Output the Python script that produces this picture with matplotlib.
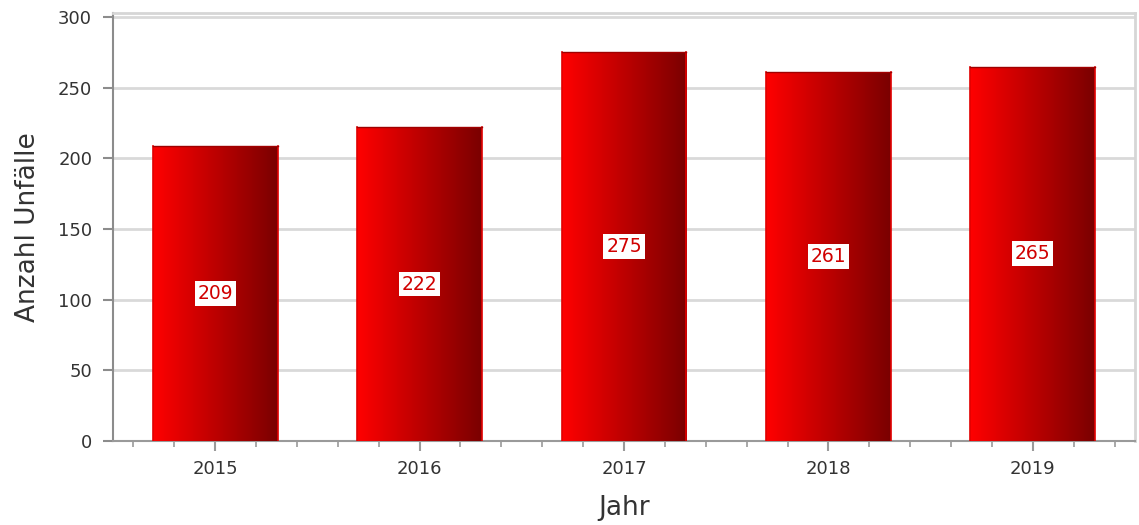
import matplotlib
matplotlib.use("Agg")
import matplotlib.pyplot as plt
import numpy as np
from matplotlib.colors import LinearSegmentedColormap
from matplotlib.ticker import MultipleLocator

years = ["2015", "2016", "2017", "2018", "2019"]
accidents = [209, 222, 275, 261, 265]
y_ticks = [0, 50, 100, 150, 200, 250, 300]
x_label = "Jahr"
y_label = "Anzahl Unfälle"

plt.rcParams['font.family'] = ['DejaVu Sans']
text_col = "#333333"

fig = plt.figure(figsize=(11.39, 5.25), dpi=100)
ax = fig.add_axes([0.0992, 0.16, 0.8973, 0.815])

x = np.arange(len(years))
width = 0.61
cmap = LinearSegmentedColormap.from_list("redgrad", ["#ff0000", "#7a0000"])
grad = np.linspace(0, 1, 256).reshape(1, -1)

bars = ax.bar(x, accidents, width=width, color="none", edgecolor="none", zorder=3)
for b in bars:
    x0, y0 = b.get_x(), b.get_y()
    w, h = b.get_width(), b.get_height()
    im = ax.imshow(grad, cmap=cmap, aspect="auto", extent=[x0, x0 + w, y0, y0 + h],
                   zorder=3, interpolation="bilinear")
    im.set_clip_path(b)
    ax.plot([x0 + w, x0 + w], [y0, y0 + h], color="#e00000", lw=1.2, zorder=4)
    ax.plot([x0, x0], [y0, y0 + h], color="#e00000", lw=1.2, zorder=4)
    ax.plot([x0, x0 + w], [y0 + h, y0 + h], color="#a00000", lw=1.0, zorder=4)

for xi, v in zip(x, accidents):
    ax.text(xi, v / 2, str(v), ha="center", va="center", fontsize=13.5, color="#d00000",
            zorder=5, bbox=dict(boxstyle="square,pad=0.15", fc="white", ec="none"))

ax.set_xlim(-0.5, len(years) - 0.5)
ax.set_ylim(0, 302.8)
ax.set_yticks(y_ticks)
ax.set_xticks(x)
ax.set_xticklabels(years)
ax.xaxis.set_minor_locator(MultipleLocator(0.2))

ax.grid(axis="y", color="#d9d9d9", lw=2, zorder=0)
ax.set_axisbelow(True)

for s in ["top", "right"]:
    ax.spines[s].set_color("#d6d6d6")
    ax.spines[s].set_linewidth(2)
ax.spines["left"].set_color("#8c8c8c")
ax.spines["left"].set_linewidth(1.5)
ax.spines["bottom"].set_color("#9a9a9a")
ax.spines["bottom"].set_linewidth(1.5)

ax.tick_params(axis="y", direction="out", length=7, width=1.5, color="#8c8c8c",
               labelsize=13, labelcolor=text_col, pad=8)
ax.tick_params(axis="x", which="major", direction="out", length=7, width=1.5,
               color="#9a9a9a", labelsize=13, labelcolor=text_col, pad=7)
ax.tick_params(axis="x", which="minor", direction="out", length=4, width=1.2,
               color="#9a9a9a")

ax.set_xlabel(x_label, fontsize=19, color=text_col, labelpad=12)
ax.set_ylabel(y_label, fontsize=19, color=text_col, labelpad=12)

fig.savefig("out.png", dpi=100)
